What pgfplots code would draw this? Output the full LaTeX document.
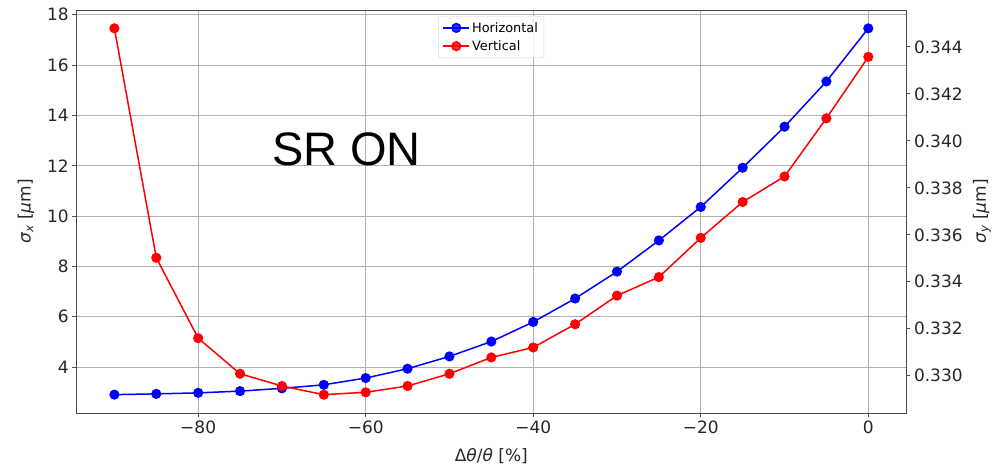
\documentclass[border=0pt]{standalone}
\usepackage{pgfplots}
\pgfplotsset{compat=1.18}
\usepackage{fontspec}
\setmainfont{DejaVu Sans}
\newfontfamily\arialfont{Liberation Sans}
\newcommand\tickfont{\fontsize{17}{20}\selectfont}
\newcommand\legfont{\fontsize{12.9}{15}\selectfont}

\pgfplotstableread{
x y
-90 2.90
-85 2.93
-80 2.97
-75 3.04
-70 3.15
-65 3.29
-60 3.56
-55 3.93
-50 4.42
-45 5.01
-40 5.79
-35 6.72
-30 7.79
-25 9.03
-20 10.36
-15 11.92
-10 13.55
-5 15.35
0 17.46
}\horiz

\pgfplotstableread{
x y
-90 0.344793
-85 0.335023
-80 0.331599
-75 0.330085
-70 0.329563
-65 0.329194
-60 0.329296
-55 0.329563
-50 0.330085
-45 0.330780
-40 0.331204
-35 0.332193
-30 0.333411
-25 0.334200
-20 0.335871
-15 0.337399
-10 0.338485
-5 0.340962
0 0.343576
}\vert

\pgfplotsset{
  common/.style={
    at={(0,0)}, anchor=south west,
    scale only axis, width=829.3pt, height=403pt,
    xmin=-94.5, xmax=4.5,
    tick align=outside, major tick length=4.5pt,
    tick style={black!70, line width=0.9pt},
    axis line style={black!70, line width=0.9pt},
    tick label style={font=\tickfont, color=black!85},
    label style={font=\tickfont, color=black!85},
    scaled ticks=false,
  },
  /pgfplots/legend image code/.code={%
    \draw[mark repeat=2,mark phase=2] plot coordinates {(0pt,0pt) (13pt,0pt) (26pt,0pt)};},
}

\begin{document}
\begin{tikzpicture}
\useasboundingbox (-76.7pt,-57pt) rectangle (926.3pt,413pt);
\begin{axis}[common,
  ymin=2.17, ymax=18.19,
  xtick={-80,-60,-40,-20,0},
  xticklabels={−80,−60,−40,−20,0},
  ytick={4,6,8,10,12,14,16,18},
  yticklabels={4,6,8,10,12,14,16,18},
  xtick pos=bottom, ytick pos=left,
  grid=major,
  major grid style={color=black!31, line width=0.8pt},
  xlabel={Δ\textit{θ}/\textit{θ} [\%]},
  xlabel style={at={(axis description cs:0.5,-0.106)}, anchor=center},
  ylabel={\textit{σ}\textsubscript{\textit{x}} [\textit{μ}m]},
  ylabel style={at={(axis description cs:-0.0611,0.5)}, anchor=center},
]
\addplot[blue, line width=1.5pt, mark=*, mark size=4.3pt, mark options={solid}] table[x=x,y=y] {\horiz};
\node[anchor=base west, font={\arialfont\fontsize{47}{52}\selectfont}] at (axis cs:-71.6,12) {SR ON};
\end{axis}
\begin{axis}[common,
  ymin=0.328414, ymax=0.345573,
  axis x line=none, axis y line*=right,
  ytick={0.330,0.332,0.334,0.336,0.338,0.340,0.342,0.344},
  yticklabels={0.330,0.332,0.334,0.336,0.338,0.340,0.342,0.344},
  ylabel={\textit{σ}\textsubscript{\textit{y}} [\textit{μ}m]},
  ylabel style={at={(axis description cs:1.0916,0.5)}, anchor=center},
  legend style={at={(axis description cs:0.4361,0.985)}, anchor=north west,
    draw=black!15, rounded corners=2pt, fill=white, fill opacity=0.8, text opacity=1,
    font=\legfont, inner xsep=4pt, inner ysep=4pt, row sep=3pt},
  legend cell align=left,
]
\addlegendimage{blue, line width=1.5pt, mark=*, mark size=4.3pt, mark options={solid}}
\addlegendentry{Horizontal}
\addplot[red, line width=1.5pt, mark=*, mark size=4.3pt, mark options={solid}] table[x=x,y=y] {\vert};
\addlegendentry{Vertical}
\end{axis}
\end{tikzpicture}
\end{document}
